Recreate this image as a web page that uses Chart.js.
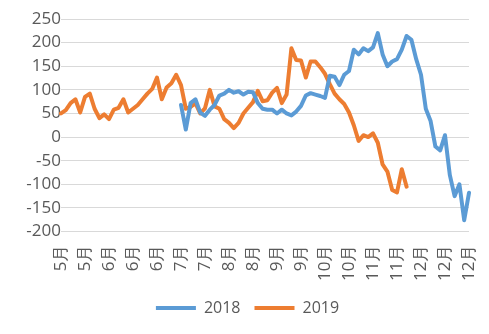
<!DOCTYPE html>
<html>
<head>
<meta charset="utf-8">
<script src="https://cdn.jsdelivr.net/npm/chart.js@4"></script>
<style>
  html, body { margin: 0; padding: 0; background: #ffffff; }
  #wrap { width: 489px; height: 334px; position: relative; }
</style>
</head>
<body>
<div id="wrap"><canvas id="chart"></canvas></div>
<script>
// month tick labels, one every labelStep points
const tickLabels = ['5月', '5月', '6月', '6月', '6月', '7月', '7月', '8月', '8月',
    '9月', '9月', '10月', '10月', '11月', '11月', '12月', '12月', '12月'];
const labelStep = 5;

// 2019 series (orange)
const values2019 = [
    50, 57, 72, 80, 52, 85, 92, 60, 40, 48,
    38, 58, 62, 80, 52, 60, 68, 80, 92, 102,
    126, 80, 105, 114, 132, 110, 60, 64, 72, 50,
    61, 100, 65, 60, 38, 30, 19, 30, 50, 62,
    74, 98, 76, 78, 94, 104, 72, 90, 188, 163,
    162, 126, 160, 160, 148, 134, 112, 92, 80, 70,
    52, 25, -8, 4, 0, 8, -12, -58, -73, -112,
    -117, -68, -105
];

// 2018 series (blue), starts at point 25
const values2018 = [
    null, null, null, null, null, null, null, null, null, null,
    null, null, null, null, null, null, null, null, null, null,
    null, null, null, null, null, 68, 16, 72, 80, 52,
    45, 58, 68, 88, 92, 100, 94, 97, 90, 96,
    95, 72, 60, 58, 58, 50, 58, 50, 46, 54,
    66, 88, 93, 90, 87, 83, 130, 128, 110, 132,
    140, 185, 175, 188, 182, 190, 220, 175, 150, 160,
    165, 185, 214, 206, 165, 132, 60, 34, -20, -28,
    4, -80, -125, -100, -176, -118
];

const yTicks = { min: -200, max: 250, step: 50 };

// category labels: only every labelStep-th point gets a month
const pointCount = (tickLabels.length - 1) * labelStep + 1;
const categories = [];
for (let i = 0; i < pointCount; i++) {
    categories.push(i % labelStep === 0 ? tickLabels[i / labelStep] : '');
}

const FONT = '"Open Sans", "Liberation Sans", sans-serif';
const TEXT = '#595959';

// nudge the legend a few px right so it sits centred like the original
const legendShift = {
    id: 'legendShift',
    afterLayout(chart) {
        if (chart.legend) {
            chart.legend.left += 3;
            chart.legend.right += 3;
        }
    }
};

new Chart(document.getElementById('chart'), {
    type: 'line',
    data: {
        labels: categories,
        datasets: [
            {
                label: '2018',
                data: values2018,
                borderColor: '#5B9BD5',
                backgroundColor: '#5B9BD5',
                borderWidth: 4,
                pointRadius: 0,
                tension: 0,
                borderJoinStyle: 'round',
                borderCapStyle: 'round'
            },
            {
                label: '2019',
                data: values2019,
                borderColor: '#ED7D31',
                backgroundColor: '#ED7D31',
                borderWidth: 4,
                pointRadius: 0,
                tension: 0,
                borderJoinStyle: 'round',
                borderCapStyle: 'round'
            }
        ]
    },
    plugins: [legendShift],
    options: {
        responsive: true,
        maintainAspectRatio: false,
        animation: false,
        layout: {
            padding: { top: 0, right: 14, left: 14, bottom: 8 }
        },
        plugins: {
            tooltip: { enabled: false },
            legend: {
                position: 'bottom',
                labels: {
                    boxWidth: 40,
                    boxHeight: 4,
                    padding: 14,
                    useBorderRadius: true,
                    borderRadius: 2,
                    color: TEXT,
                    font: { family: FONT, size: 16 },
                    generateLabels: function(chart) {
                        return chart.data.datasets.map((ds, i) => ({
                            text: ds.label,
                            fillStyle: ds.borderColor,
                            strokeStyle: ds.borderColor,
                            lineWidth: 0,
                            fontColor: TEXT,
                            datasetIndex: i
                        }));
                    }
                }
            }
        },
        scales: {
            x: {
                offset: false,
                grid: { display: false },
                border: { display: false },
                afterFit: function(scale) {
                    scale.paddingRight = 20;
                    scale.paddingLeft = 0;
                },
                ticks: {
                    autoSkip: false,
                    minRotation: 90,
                    maxRotation: 90,
                    padding: 5,
                    color: TEXT,
                    font: { family: FONT, size: 17 }
                }
            },
            y: {
                min: yTicks.min,
                max: yTicks.max,
                border: { display: false },
                grid: { color: '#D9D9D9', lineWidth: 1, drawTicks: false },
                afterFit: function(scale) {
                    scale.width = 47;
                    scale.paddingTop = 19;
                },
                ticks: {
                    autoSkip: false,
                    stepSize: yTicks.step,
                    padding: 0,
                    color: TEXT,
                    font: { family: FONT, size: 17 }
                }
            }
        }
    }
});
</script>
</body>
</html>
